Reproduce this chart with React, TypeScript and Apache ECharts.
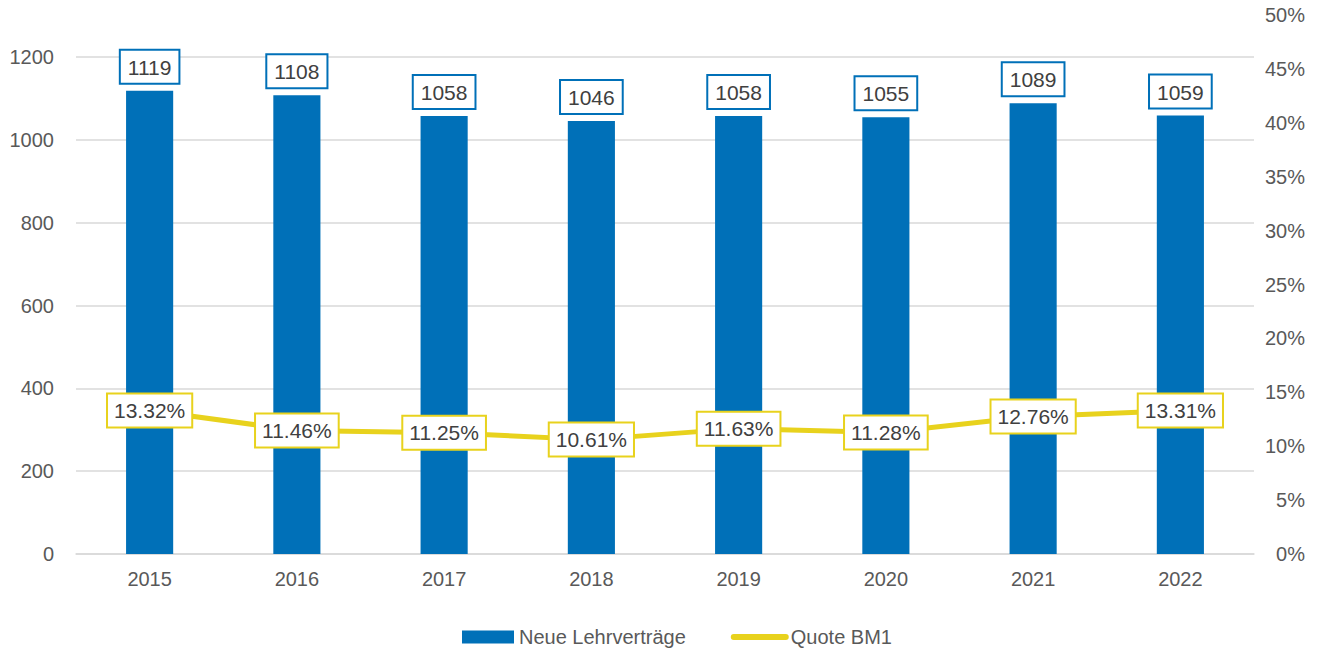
import React, { useEffect, useRef } from "react";
import * as echarts from "echarts";

const years = ["2015", "2016", "2017", "2018", "2019", "2020", "2021", "2022"];
const lehrvertraege = [1119, 1108, 1058, 1046, 1058, 1055, 1089, 1059];
const quoteBM1 = [13.32, 11.46, 11.25, 10.61, 11.63, 11.28, 12.76, 13.31];

const BLUE = "#0070B8";
const YELLOW = "#E8D21D";
const TEXT = "#595959";
const GRID = "#D9D9D9";
const FONT = "Liberation Sans, Arial, sans-serif";

export default function App() {
  const ref = useRef<HTMLDivElement>(null);
  useEffect(() => {
    if (!ref.current) return;
    const chart = echarts.init(ref.current, null, { renderer: "svg" });
    chart.setOption({
      animation: false,
      textStyle: { fontFamily: FONT },
      grid: { left: 76, right: 65, top: 15, bottom: 97 },
      legend: {
        left: 457,
        top: 622,
        itemWidth: 52,
        itemHeight: 13,
        itemGap: 45,
        textStyle: { fontSize: 20, color: TEXT, fontFamily: FONT },
        data: [
          { name: "Neue Lehrverträge", icon: "rect" },
          {
            name: "Quote BM1",
            itemStyle: { opacity: 0 },
            lineStyle: { width: 6, cap: "round" },
          },
        ],
      },
      xAxis: {
        type: "category",
        data: years,
        axisTick: { show: false },
        axisLine: { lineStyle: { color: GRID, width: 1.5 } },
        axisLabel: { fontSize: 20, color: TEXT, margin: 15, fontFamily: FONT },
      },
      yAxis: [
        {
          type: "value",
          min: 0,
          max: 1302,
          interval: 200,
          axisLabel: {
            fontSize: 20,
            color: TEXT,
            margin: 22,
            showMaxLabel: false,
            fontFamily: FONT,
            formatter: (v: number) => String(v),
          },
          splitLine: { lineStyle: { color: GRID, width: 1.5 }, showMaxLine: false },
          axisLine: { show: false },
          axisTick: { show: false },
        },
        {
          type: "value",
          min: 0,
          max: 50,
          interval: 5,
          position: "right",
          axisLabel: {
            fontSize: 20,
            color: TEXT,
            margin: 51,
            align: "right",
            formatter: "{value}%",
            fontFamily: FONT,
          },
          splitLine: { show: false },
          axisLine: { show: false },
          axisTick: { show: false },
        },
      ],
      series: [
        {
          name: "Neue Lehrverträge",
          type: "bar",
          data: lehrvertraege,
          barWidth: "32%",
          itemStyle: { color: BLUE },
          label: {
            show: true,
            position: "top",
            distance: 8,
            fontSize: 21,
            color: "#404040",
            fontFamily: FONT,
            backgroundColor: "#FFFFFF",
            borderColor: BLUE,
            borderWidth: 2,
            padding: [6, 7, 5, 7],
          },
        },
        {
          name: "Quote BM1",
          type: "line",
          yAxisIndex: 1,
          data: quoteBM1,
          symbol: "circle",
          symbolSize: 1,
          itemStyle: { color: YELLOW },
          lineStyle: { color: YELLOW, width: 5 },
          label: {
            show: true,
            position: "inside",
            fontSize: 21,
            color: "#404040",
            fontFamily: FONT,
            backgroundColor: "#FFFFFF",
            borderColor: YELLOW,
            borderWidth: 2,
            padding: [6, 6, 5, 6],
            formatter: (p: any) => p.value.toFixed(2) + "%",
          },
          z: 5,
        },
      ],
    });
    return () => chart.dispose();
  }, []);
  return (
    <div
      ref={ref}
      style={{ position: "absolute", left: 0, top: 0, width: 1319, height: 651 }}
    />
  );
}
